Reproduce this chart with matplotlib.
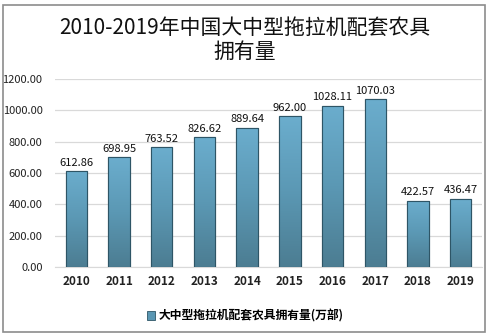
import matplotlib
matplotlib.use("Agg")
import numpy as np
import matplotlib.pyplot as plt
from matplotlib.patches import Rectangle
from matplotlib.colors import LinearSegmentedColormap

plt.rcParams['font.family'] = ['Noto Sans CJK SC', 'DejaVu Sans']

# data
years = ['2010', '2011', '2012', '2013', '2014', '2015', '2016', '2017', '2018', '2019']
values = [612.86, 698.95, 763.52, 826.62, 889.64, 962.00, 1028.11, 1070.03, 422.57, 436.47]
yticks = [0, 200, 400, 600, 800, 1000, 1200]
title = '2010-2019年中国大中型拖拉机配套农具\n拥有量'
series_name = '大中型拖拉机配套农具拥有量(万部)'

W, H = 490, 335
fig = plt.figure(figsize=(W / 100, H / 100), dpi=100)

# outer border
fig.patches.append(Rectangle((3 / W, 3 / H), 482 / W, 327 / H, transform=fig.transFigure,
                             fill=False, edgecolor='#8c8c8c', linewidth=1.2))

ax = fig.add_axes([55 / W, (H - 267) / H, 427 / W, 188 / H])
x = range(len(years))
bars = ax.bar(x, values, width=0.5, color='#5a97b3', edgecolor='#2e5566', linewidth=0.8, zorder=3)

# vertical gradient inside each bar
cmap = LinearSegmentedColormap.from_list('bar', ['#4c7d92', '#5b98b4', '#6badcd'])
grad = np.linspace(0, 1, 64).reshape(-1, 1)
for b in bars:
    bx, by = b.get_x(), b.get_y()
    im = ax.imshow(grad, cmap=cmap, aspect='auto', origin='lower',
                   extent=(bx, bx + b.get_width(), by, by + b.get_height()), zorder=3.5)
    im.set_clip_path(b)
    edge = Rectangle((bx, by), b.get_width(), b.get_height(), fill=False,
                     edgecolor='#2e5566', linewidth=0.8, zorder=4)
    ax.add_patch(edge)

for xi, v in zip(x, values):
    ax.text(xi, v + 22, '%.2f' % v, ha='center', va='bottom', fontsize=8, color='#111111')

ax.set_xlim(-0.5, len(years) - 0.5)
ax.set_ylim(0, 1200)
ax.set_yticks(yticks)
ax.set_yticklabels(['%.2f' % t for t in yticks], fontsize=8, color='#222222')
ax.set_xticks(list(x))
ax.set_xticklabels(years, fontsize=8.5, fontweight='bold', color='#222222')
ax.tick_params(axis='both', length=0, pad=6)
ax.tick_params(axis='y', pad=9)
ax.grid(axis='y', color='#d9d9d9', linewidth=0.9, zorder=0)
for s in ['top', 'right', 'left']:
    ax.spines[s].set_visible(False)
ax.spines['bottom'].set_color('#d9d9d9')

fig.text(0.5, (H - 40) / H, title, ha='center', va='center', fontsize=15,
         color='#111111', linespacing=1.15, fontweight='medium')

# legend
handle = Rectangle((0, 0), 1, 1, facecolor='#5a97b3', edgecolor='#2e5566', linewidth=0.6)
fig.legend([handle], [series_name], loc='center', bbox_to_anchor=(0.5, (H - 316) / H),
           frameon=False, handlelength=0.7, handleheight=0.7, handletextpad=0.3,
           prop={'weight': 'bold', 'size': 8.5})

fig.savefig('out.png', dpi=100, facecolor='white')
